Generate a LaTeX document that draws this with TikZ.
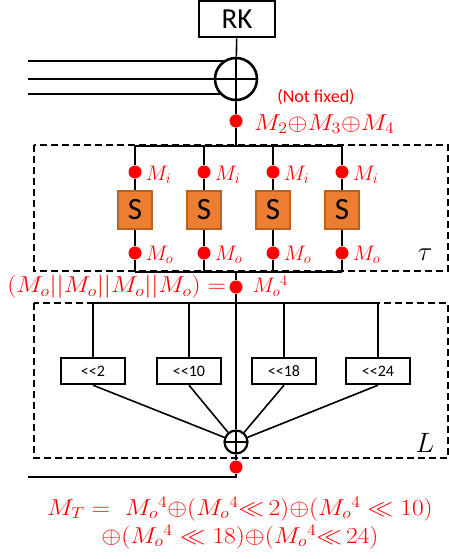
\RequirePackage{fix-cm}
\documentclass[tikz,border=0pt]{standalone}
\usepackage{amsmath,amssymb}
\usepackage{graphicx}
\usepackage{fontspec}
\setsansfont{Carlito}
\usepackage{tikz}
\usetikzlibrary{calc,positioning,backgrounds}
\usepackage{xcolor}
\definecolor{mred}{HTML}{FF0000}
\definecolor{sfill}{HTML}{ED7D31}
\definecolor{sedge}{HTML}{B9621F}
\newcommand{\wideeq}[1]{\scalebox{1.11}[1]{#1}}

\tikzset{
  wire/.style={line width=1.6pt},
  reddot/.style={circle,fill=mred,inner sep=0pt,minimum size=13pt},
  keybox/.style={draw,line width=2.6pt,minimum width=76pt,minimum height=36pt,inner sep=0pt,font=\sffamily\fontsize{29}{29}\selectfont},
  sbox/.style={draw=sedge,fill=sfill,line width=1.2pt,minimum width=34pt,minimum height=38pt,inner sep=0pt,font=\sffamily\fontsize{31}{31}\selectfont},
  shiftbox/.style={draw,line width=2.4pt,minimum width=64pt,minimum height=26pt,inner sep=0pt,font=\sffamily\fontsize{16}{16}\selectfont},
  xorbig/.style={circle,draw,fill=white,line width=2.6pt,minimum size=42pt,inner sep=0pt,
    path picture={\draw[wire] (path picture bounding box.north) -- (path picture bounding box.south)
      (path picture bounding box.west) -- (path picture bounding box.east);}},
  xorsmall/.style={xorbig,line width=2.2pt,minimum size=23pt},
  mlabel/.style={text=mred,font=\fontsize{21}{21}\selectfont,inner sep=0pt},
  eqlabel/.style={mlabel,font=\fontsize{23}{23}\selectfont},
  frame/.style={line width=1.6pt,dash pattern=on 7pt off 4pt},
}

\begin{document}
\begin{tikzpicture}[x=1pt,y=-1pt]
\useasboundingbox (0,0) rectangle (449,559);
% cle de ronde et XOR d'entree
\node[keybox] (rk) at (237,19) {RK};
\node[xorbig] (xa) at (236,79) {};
\coordinate (in1) at (28,61);
\coordinate (in2) at (28,79);
\coordinate (in3) at (28,94);
\node[reddot] (da) at (236,121) {};
\node[text=mred,inner sep=0pt,font=\sffamily\fontsize{18}{18}\selectfont] (nf) at (316,97) {(Not fixed)};
\node[eqlabel,anchor=west] (sum) at (254,124) {\wideeq{$M_2{\oplus}M_3{\oplus}M_4$}};
% couche non lineaire tau
\draw[frame] (34,145) rectangle (448,271);
\node[font=\fontsize{27}{27}\selectfont] (tau) at (425,255) {$\tau$};
\coordinate (tc) at (236,146);
\coordinate (bc) at (236,272);
\foreach \x [count=\i] in {135,204,273,342}{
  \coordinate (top\i) at (\x,146);
  \coordinate (bot\i) at (\x,272);
  \node[reddot] (mi\i) at (\x,172) {};
  \node[sbox] (s\i) at (\x,210) {S};
  \node[reddot] (mo\i) at (\x,253) {};
  \node[mlabel,anchor=west] (li\i) at ([xshift=4pt,yshift=-3pt]mi\i.east) {$M_i$};
  \node[mlabel,anchor=west] (lo\i) at ([xshift=4pt,yshift=-2pt]mo\i.east) {$M_o$};
}
\node[reddot] (db) at (236,287) {};
\node[eqlabel,anchor=east] (cat) at ([xshift=-3pt]db.west) {\wideeq{$(M_o||M_o||M_o||M_o)=$}};
\node[mlabel,anchor=west] (m4) at ([xshift=10pt,yshift=1pt]db.east) {$M_o{}^4$};
% couche lineaire L
\draw[frame] (34,303) rectangle (448,458);
\node[font=\fontsize{28}{28}\selectfont] (ll) at (425,443) {$L$};
\coordinate (lc) at (236,303);
\foreach \x/\k [count=\i] in {93/2,189/10,284/18,378/24}{
  \coordinate (lt\i) at (\x,303);
  \node[shiftbox] (sh\i) at (\x,371) {<{}<\k};
}
\node[xorsmall] (xb) at (236,442) {};
\node[reddot] (dc) at (236,467) {};
\coordinate (oc) at (236,477);
\coordinate (out) at (28,477);
% fils
\begin{scope}[on background layer]
\draw[wire] (rk) -- (xa) -- (da) -- (tc);
\foreach \i in {1,2,3} \draw[wire] (in\i) -- (in\i -| xa.center);
\draw[wire] (top1) -- (top4);
\draw[wire] (bot1) -- (bot4);
\foreach \i in {1,...,4}
  \draw[wire] (top\i) -- (mi\i) -- (s\i) -- (mo\i) -- (bot\i);
\draw[wire] (bc) -- (db) -- (xb) -- (dc) -- (oc) -- (out);
\draw[wire] (lt1) -- (lt4);
\foreach \i in {1,...,4}{
  \draw[wire] (lt\i) -- (sh\i);
  \draw[wire] (sh\i.south) -- (xb);
}
\end{scope}
% expression de sortie
\node[eqlabel] (mt1) at (240,509)
  {\wideeq{$M_T=\ M_o{}^4{\oplus}(M_o{}^4{\ll}\,2){\oplus}(M_o{}^4 \ll 10)$}};
\node[eqlabel] (mt2) at (240,537)
  {\wideeq{${\oplus}(M_o{}^4 \ll 18){\oplus}(M_o{}^4{\ll}\,24)$}};
\end{tikzpicture}
\end{document}
